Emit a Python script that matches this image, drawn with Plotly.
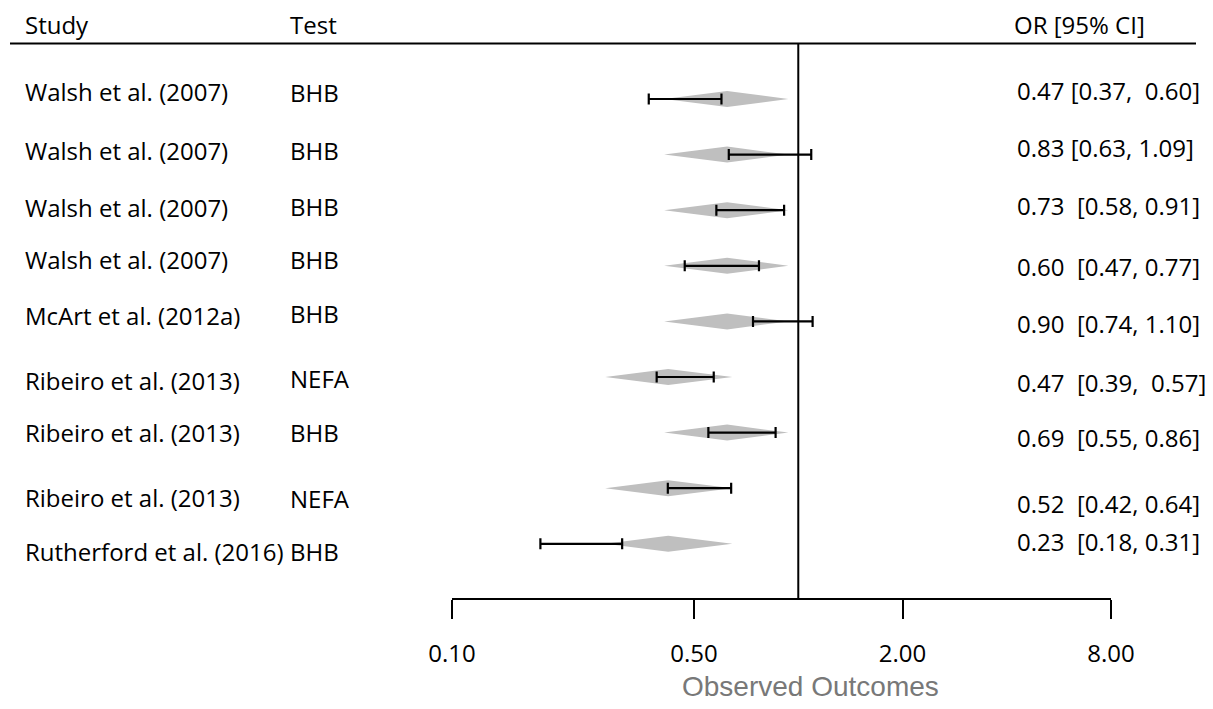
import numpy as np
import plotly.graph_objects as go

# ---------------- data ----------------
studies = ["Walsh et al. (2007)", "Walsh et al. (2007)", "Walsh et al. (2007)",
           "Walsh et al. (2007)", "McArt et al. (2012a)", "Ribeiro et al. (2013)",
           "Ribeiro et al. (2013)", "Ribeiro et al. (2013)", "Rutherford et al. (2016)"]
tests = ["BHB", "BHB", "BHB", "BHB", "BHB", "NEFA", "BHB", "NEFA", "BHB"]
or_est = [0.47, 0.83, 0.73, 0.60, 0.90, 0.47, 0.69, 0.52, 0.23]
ci_lo = [0.37, 0.63, 0.58, 0.47, 0.74, 0.39, 0.55, 0.42, 0.18]
ci_hi = [0.60, 1.09, 0.91, 0.77, 1.10, 0.57, 0.86, 0.64, 0.31]
or_labels = ["0.47 [0.37,  0.60]", "0.83 [0.63, 1.09]", "0.73  [0.58, 0.91]",
             "0.60  [0.47, 0.77]", "0.90  [0.74, 1.10]", "0.47  [0.39,  0.57]",
             "0.69  [0.55, 0.86]", "0.52  [0.42, 0.64]", "0.23  [0.18, 0.31]"]
# grey diamonds as drawn in the figure
diamond_lo = [0.41, 0.41, 0.41, 0.41, 0.41, 0.277, 0.41, 0.277, 0.277]
diamond_mid = [0.623, 0.623, 0.623, 0.623, 0.623, 0.421, 0.623, 0.421, 0.421]
diamond_hi = [0.936, 0.936, 0.936, 0.936, 0.936, 0.645, 0.936, 0.645, 0.645]
ref_value = 1.0
tick_vals = [0.10, 0.50, 2.00, 8.00]
tick_text = ["0.10", "0.50", "2.00", "8.00"]
x_title = "Observed Outcomes"
headers = ["Study", "Test", "OR [95% CI]"]

# ---------------- layout helpers (styling only) ----------------
# page body has an 8px margin, so the figure is sized to fit the window
OFF = 8
W, H = 1213 - 2 * OFF, 709 - 2 * OFF
AXIS_Y = 598 - OFF          # pixel of the bottom axis inside the figure


def px(x):
    return (x - OFF) / W


rows = list(range(1, len(studies) + 1))
study_nudge = [-8, -4, -3, -6, -6, 3, 0, 9, 8]
test_nudge = [-7, -4, -4, -6, -8, 1, 0, 10, 8]
or_nudge = [-9, -7, -5, 1, 2, 5, 5, 15, -2]
FONT = "Open Sans"
half_h = 0.144

fig = go.Figure()

# diamonds
for r, lo, mid, hi in zip(rows, diamond_lo, diamond_mid, diamond_hi):
    fig.add_trace(go.Scatter(
        x=[lo, mid, hi, mid, lo], y=[r, r - half_h, r, r + half_h, r],
        mode="lines", fill="toself", fillcolor="rgb(191,191,191)",
        line=dict(width=0, color="rgb(191,191,191)"), hoverinfo="skip",
        showlegend=False))

# confidence intervals
fig.add_trace(go.Scatter(
    x=or_est, y=rows, mode="markers",
    marker=dict(size=1, opacity=0),
    error_x=dict(type="data", symmetric=False,
                 array=[h - e for h, e in zip(ci_hi, or_est)],
                 arrayminus=[e - l for e, l in zip(or_est, ci_lo)],
                 color="black", thickness=2.2, width=5.5),
    showlegend=False))

row_px = 55.6
first_row_px = 99 - OFF
y_top = 1 - first_row_px / row_px
y_bottom = 1 + (AXIS_Y - first_row_px) / row_px

shapes = [
    dict(type="line", xref="x", yref="y", x0=ref_value, x1=ref_value,
         y0=0, y1=y_bottom, line=dict(color="black", width=2)),
    dict(type="line", xref="paper", yref="y", x0=px(10), x1=px(1196),
         y0=0, y1=0, line=dict(color="black", width=2)),
]

ann = []
hx = [23, 288, 1012]
for t, x in zip(headers, hx):
    ann.append(dict(text=t, x=px(x), xref="paper", y=0, yref="y", yshift=19,
                    xanchor="left", yanchor="middle", showarrow=False,
                    font=dict(family=FONT, size=24, color="black")))
for r, s, t, o, n1, n2, n3 in zip(rows, studies, tests, or_labels,
                                  study_nudge, test_nudge, or_nudge):
    ann.append(dict(text=s, x=px(23), xref="paper", y=r, yref="y", yshift=-n1,
                    xanchor="left", yanchor="middle", showarrow=False,
                    font=dict(family=FONT, size=24, color="black")))
    ann.append(dict(text=t, x=px(288), xref="paper", y=r, yref="y", yshift=-n2,
                    xanchor="left", yanchor="middle", showarrow=False,
                    font=dict(family=FONT, size=24, color="black")))
    ann.append(dict(text=o.replace(" ", "\u00a0"), x=px(1015), xref="paper", y=r,
                    yref="y", yshift=-n3, xanchor="left", yanchor="middle",
                    showarrow=False,
                    font=dict(family=FONT, size=24, color="black")))
ann.append(dict(text=x_title, x=px(810), xref="paper",
                y=-(686 - 598) / AXIS_Y, yref="paper",
                xanchor="center", yanchor="middle", showarrow=False,
                font=dict(family="Liberation Sans", size=28, color="rgb(120,120,120)")))

fig.update_layout(
    width=W, height=H,
    margin=dict(l=0, r=0, t=0, b=H - AXIS_Y, pad=0, autoexpand=False),
    paper_bgcolor="white", plot_bgcolor="white",
    showlegend=False,
    shapes=shapes, annotations=ann,
    xaxis=dict(type="log", domain=[px(452), px(1111)],
               range=[np.log10(tick_vals[0]), np.log10(tick_vals[-1])],
               tickvals=tick_vals, ticktext=tick_text,
               showline=True, linecolor="black", linewidth=2,
               ticks="outside", ticklen=19, tickwidth=2, tickcolor="black",
               ticklabelstandoff=14, automargin=False,
               tickfont=dict(family=FONT, size=24, color="black"),
               showgrid=False, zeroline=False, fixedrange=True),
    yaxis=dict(range=[y_bottom, y_top], visible=False, showgrid=False,
               zeroline=False, fixedrange=True, automargin=False),
)

fig.write_html("out.html")
